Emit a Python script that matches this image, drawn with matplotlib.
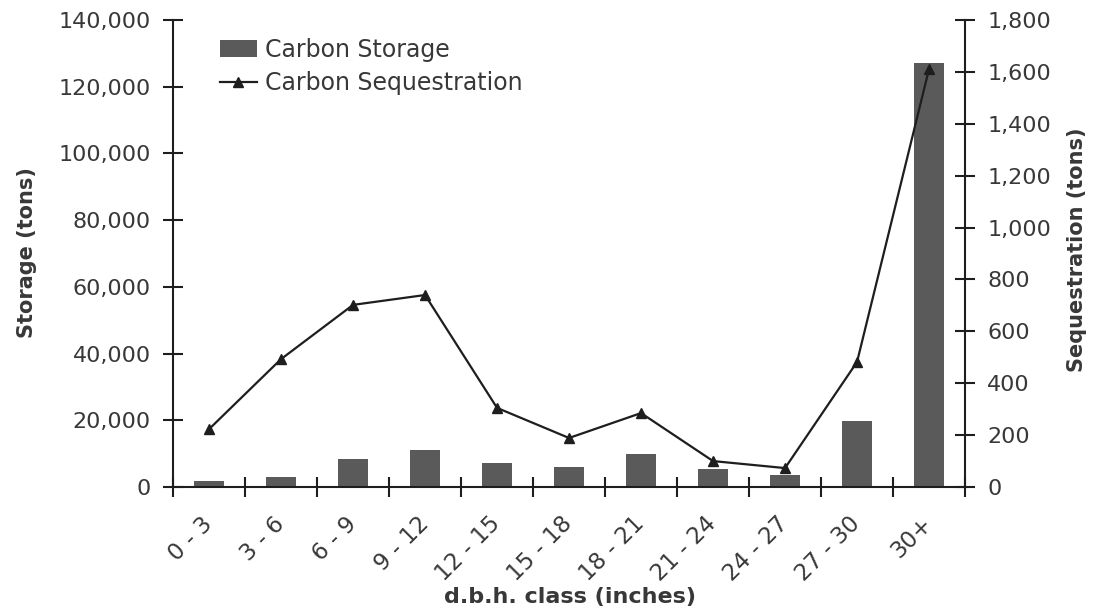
import numpy as np
import matplotlib.pyplot as plt
from matplotlib.ticker import FuncFormatter, FixedLocator

plt.rcParams['font.family'] = ['DejaVu Sans']

classes = ['0 - 3', '3 - 6', '6 - 9', '9 - 12', '12 - 15', '15 - 18',
           '18 - 21', '21 - 24', '24 - 27', '27 - 30', '30+']
storage = [1700, 3100, 8400, 11000, 7100, 6000, 10000, 5400, 3600, 19800, 127000]
sequestration = [223, 493, 702, 740, 305, 189, 285, 100, 73, 482, 1611]

txt = '#383838'
dark = '#1e1e1e'
x = np.arange(len(classes))

fig = plt.figure(figsize=(10.98, 6.15), dpi=100)
ax = fig.add_axes([0.1576, 0.2081, 0.7213, 0.7594])
ax2 = ax.twinx()

bars = ax.bar(x, storage, width=0.42, color='#5a5a5a', label='Carbon Storage', zorder=2)
line, = ax2.plot(x, sequestration, color=dark, lw=1.6, marker='^', ms=6.5,
                 label='Carbon Sequestration', zorder=3)

ax.set_xlim(-0.5, len(classes) - 0.5)
ax.set_ylim(0, 140000)
ax2.set_ylim(0, 1800)
ax.set_yticks(np.arange(0, 140001, 20000))
ax2.set_yticks(np.arange(0, 1801, 200))
fmt = FuncFormatter(lambda v, p: f'{int(v):,}')
ax.yaxis.set_major_formatter(fmt)
ax2.yaxis.set_major_formatter(fmt)

ax.set_xticks(x)
ax.set_xticklabels(classes, rotation=45, ha='right', va='center', rotation_mode='anchor')
ax.xaxis.set_minor_locator(FixedLocator(np.arange(-0.5, len(classes), 1.0)))
ax.tick_params(axis='x', which='major', length=0, pad=24, labelsize=16.5, labelcolor=txt)
ax.tick_params(axis='x', which='minor', direction='inout', length=14, width=1.5, color=dark)
ax.tick_params(axis='y', direction='inout', length=14, width=1.5, color=dark,
               labelsize=16, labelcolor=txt, pad=9)
ax2.tick_params(axis='y', direction='inout', length=14, width=1.5, color=dark,
                labelsize=16, labelcolor=txt, pad=9)

for a in (ax, ax2):
    a.spines['top'].set_visible(False)
    for s in ('left', 'right', 'bottom'):
        a.spines[s].set_linewidth(1.5)
        a.spines[s].set_color(dark)
ax.spines['right'].set_visible(False)
ax2.spines['left'].set_visible(False)
ax2.spines['bottom'].set_visible(False)

ax.set_ylabel('Storage (tons)', fontsize=15, fontweight='bold', color=txt, va='center')
ax.yaxis.set_label_coords(-0.184, 0.503)
ax2.set_ylabel('Sequestration (tons)', fontsize=15, fontweight='bold', color=txt, va='center')
ax2.yaxis.set_label_coords(1.141, 0.507)
ax.set_xlabel('d.b.h. class (inches)', fontsize=16, fontweight='bold', color=txt, va='center')
ax.xaxis.set_label_coords(0.501, -0.2355)

ax.legend([bars, line], ['Carbon Storage', 'Carbon Sequestration'], loc='upper left',
          bbox_to_anchor=(0.059, 0.962), borderaxespad=0, borderpad=0, frameon=False,
          fontsize=17, labelcolor=txt, handlelength=1.57, handletextpad=0.34,
          labelspacing=0.4)

fig.savefig('out.png', dpi=100)
